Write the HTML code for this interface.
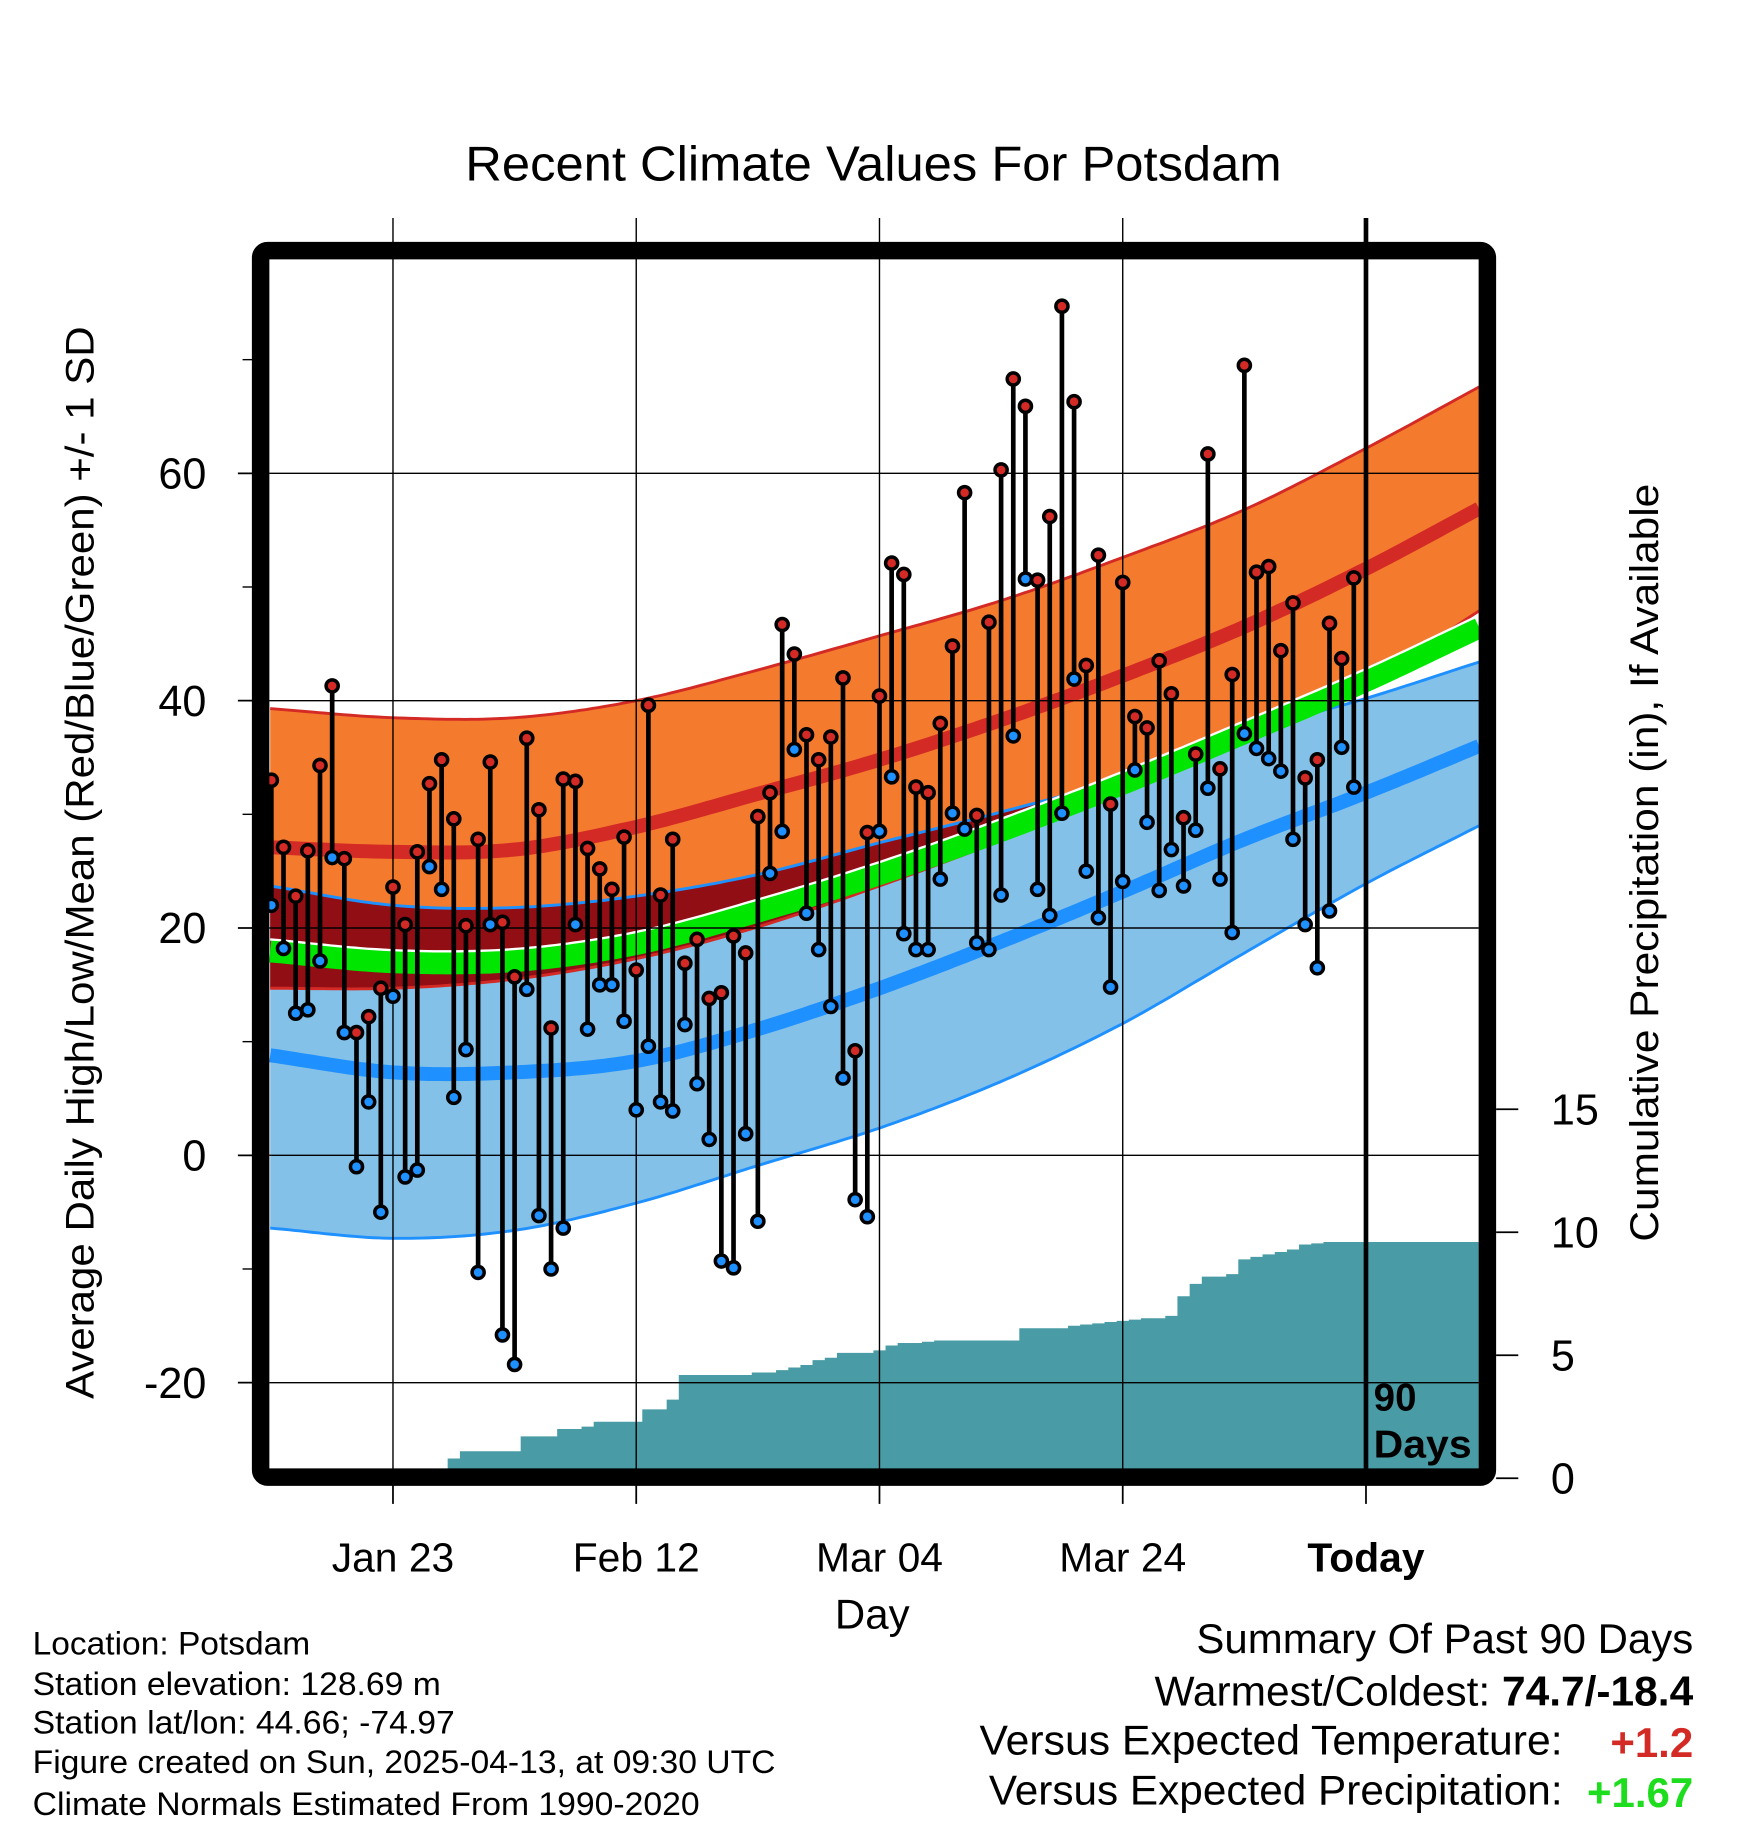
<!DOCTYPE html>
<html><head><meta charset="utf-8"><style>
html,body{margin:0;padding:0;background:#fff;}
svg{display:block;}
text{font-family:"Liberation Sans",Arial,sans-serif;fill:#000;}
</style></head><body>
<svg id="chart" width="1748" height="1828" viewBox="0 0 1499 1568" preserveAspectRatio="none" xmlns="http://www.w3.org/2000/svg">
<g id="bands"></g>
<g id="precip"></g>
<g id="grid"></g>
<g id="marks"></g>
<g id="frame"></g>
<g id="labels">
<text x="749" y="155" font-size="42" text-anchor="middle" textLength="700" lengthAdjust="spacingAndGlyphs">Recent Climate Values For Potsdam</text>
<text transform="translate(80,740) rotate(-90)" font-size="34" text-anchor="middle" textLength="920" lengthAdjust="spacingAndGlyphs">Average Daily High/Low/Mean (Red/Blue/Green) +/- 1 SD</text>
<text transform="translate(1422,740) rotate(-90)" font-size="34" text-anchor="middle" textLength="650" lengthAdjust="spacingAndGlyphs">Cumulative Precipitation (in), If Available</text>
<text x="748" y="1397" font-size="36" text-anchor="middle">Day</text>
<text x="1178" y="1210" font-size="33" font-weight="bold">90</text>
<text x="1178" y="1250" font-size="33" font-weight="bold" textLength="84" lengthAdjust="spacingAndGlyphs">Days</text>
<g font-size="28">
<text x="28" y="1419" textLength="238" lengthAdjust="spacingAndGlyphs">Location: Potsdam</text>
<text x="28" y="1454" textLength="350" lengthAdjust="spacingAndGlyphs">Station elevation: 128.69 m</text>
<text x="28" y="1487" textLength="362" lengthAdjust="spacingAndGlyphs">Station lat/lon: 44.66; -74.97</text>
<text x="28" y="1521" textLength="637" lengthAdjust="spacingAndGlyphs">Figure created on Sun, 2025-04-13, at 09:30 UTC</text>
<text x="28" y="1557" textLength="572" lengthAdjust="spacingAndGlyphs">Climate Normals Estimated From 1990-2020</text>
</g>
<g font-size="36">
<text x="1452" y="1418" text-anchor="end" textLength="426" lengthAdjust="spacingAndGlyphs">Summary Of Past 90 Days</text>
<text x="1452" y="1463" text-anchor="end" textLength="462" lengthAdjust="spacingAndGlyphs">Warmest/Coldest: <tspan font-weight="bold">74.7/-18.4</tspan></text>
<text x="1340" y="1505" text-anchor="end" textLength="500" lengthAdjust="spacingAndGlyphs">Versus Expected Temperature:</text>
<text x="1452" y="1507" text-anchor="end" font-weight="bold" style="fill:#d42a25">+1.2</text>
<text x="1340" y="1548" text-anchor="end" textLength="492" lengthAdjust="spacingAndGlyphs">Versus Expected Precipitation:</text>
<text x="1452" y="1550" text-anchor="end" font-weight="bold" style="fill:#1edc1e">+1.67</text>
</g>
</g>
</svg>
<script>
const highs=[33,27.1,22.8,26.8,34.3,41.3,26.1,10.8,12.2,14.7,23.6,20.3,26.7,32.7,34.8,29.6,20.2,27.8,34.6,20.5,15.7,36.7,30.4,11.2,33.1,32.9,27.0,25.2,23.4,28.0,16.3,39.6,22.9,27.8,16.9,19.0,13.8,14.3,19.3,17.8,29.8,31.9,46.7,44.1,37.0,34.8,36.8,42.0,9.2,28.4,40.4,52.1,51.1,32.4,31.9,38.0,44.8,58.3,29.9,46.9,60.3,68.3,65.9,50.6,56.2,74.7,66.3,43.1,52.8,30.9,50.4,38.6,37.6,43.5,40.6,29.7,35.3,61.7,34.0,42.3,69.5,51.3,51.8,44.4,48.6,33.2,34.8,46.8,43.7,50.8];
const lows=[22,18.2,12.5,12.8,17.1,26.2,10.8,-1.0,4.7,-5.0,14.0,-1.9,-1.3,25.4,23.4,5.1,9.3,-10.3,20.3,-15.8,-18.4,14.6,-5.3,-10.0,-6.4,20.3,11.1,15.0,15.0,11.8,4.0,9.6,4.7,3.9,11.5,6.3,1.4,-9.3,-9.9,1.9,-5.8,24.8,28.5,35.7,21.3,18.1,13.1,6.8,-3.9,-5.4,28.5,33.3,19.5,18.1,18.1,24.3,30.1,28.7,18.7,18.1,22.9,36.9,50.7,23.4,21.1,30.1,41.9,25.0,20.9,14.8,24.1,33.9,29.3,23.3,26.9,23.7,28.6,32.3,24.3,19.6,37.1,35.8,34.9,33.8,27.8,20.3,16.5,21.5,35.9,32.4];
const precip=[0,0,0,0,0,0,0,0,0,0,0,0,0,0,0.3,0.8,1.1,1.1,1.1,1.1,1.1,1.7,1.7,1.7,2.0,2.0,2.1,2.3,2.3,2.3,2.3,2.8,2.8,3.2,4.2,4.2,4.2,4.2,4.2,4.2,4.3,4.3,4.4,4.5,4.6,4.8,4.9,5.1,5.1,5.1,5.2,5.4,5.5,5.5,5.55,5.6,5.6,5.6,5.6,5.6,5.6,5.6,6.1,6.1,6.1,6.1,6.2,6.25,6.3,6.35,6.4,6.45,6.5,6.5,6.6,7.4,7.9,8.2,8.2,8.3,8.9,9.0,9.1,9.2,9.3,9.5,9.55,9.6,9.6,9.6];
const normDays=[-0.1,10,20,30,40,50,60,70,80,90,99.3];
const hiUp=[39.3,38.5,38.5,40,42.7,45.7,48.8,52.6,56.8,62.2,67.6];
const hiMean=[27.1,26.7,26.9,28.9,31.8,34.8,38.3,42.2,46.5,51.6,56.9];
const hiLo=[14.7,14.7,15.5,17.3,20.1,23.7,27.7,32.0,36.5,41.5,47.9];
const loUp=[23.7,22.0,21.8,22.8,24.7,27.5,30.2,33.2,37.2,40.2,43.4];
const loMean=[8.8,7.3,7.3,8.3,11.1,14.7,18.8,23.2,27.8,31.9,36.0];
const loLo=[-6.4,-7.3,-6.6,-4.2,-0.9,2.4,6.5,11.6,17.8,23.9,29.0];
const yTicks=[60,40,20,0,-20];
const yMinor=[70,50,30,10,-10];
const pTicks=[0,5,10,15];
const xTickDays=[10,30,50,70,90];
const xTickLabels=["Jan 23","Feb 12","Mar 04","Mar 24","Today"];

const NS="http://www.w3.org/2000/svg";
const L=231,R=1268,T=222,B=1260;
const xs=d=>337+(d-10)*10.43;
const ys=v=>991-9.75*v;
const yp=p=>1268-21.1*p;
function el(tag,attrs,parent){const e=document.createElementNS(NS,tag);for(const k in attrs)e.setAttribute(k,attrs[k]);parent.appendChild(e);return e;}
function interp(arr,d){const n=normDays.length;
 const tan=i=>{const a=Math.max(0,i-1),b=Math.min(n-1,i+1);return (arr[b]-arr[a])/(normDays[b]-normDays[a]);};
 for(let i=0;i<n-1;i++){if(d<=normDays[i+1]||i===n-2){const h=normDays[i+1]-normDays[i];const t=Math.min(1,Math.max(0,(d-normDays[i])/h));
 const t2=t*t,t3=t2*t;return (2*t3-3*t2+1)*arr[i]+(t3-2*t2+t)*h*tan(i)+(-2*t3+3*t2)*arr[i+1]+(t3-t2)*h*tan(i+1);}}}
const samp=[];for(let d=normDays[0];d<=99.3;d+=0.5)samp.push(d);samp.push(99.3);
function pts(fn){return samp.map(d=>xs(d).toFixed(1)+","+ys(fn(d)).toFixed(1));}
function band(fu,fl,fill,name){const p=pts(fu).concat(pts(fl).reverse());const e=el("polygon",{points:p.join(" "),fill:fill},bands);

}
function line(fn,stroke,w,name){const e=el("polyline",{points:pts(fn).join(" "),fill:"none",stroke:stroke,"stroke-width":w},bands);

}
const bands=document.getElementById("bands");
const H_up=d=>interp(hiUp,d),H_m=d=>interp(hiMean,d),H_lo=d=>interp(hiLo,d);
const L_up=d=>interp(loUp,d),L_m=d=>interp(loMean,d),L_lo=d=>interp(loLo,d);
band(H_up,H_lo,"#f47b2e","high-band");
band(L_up,L_lo,"#84c1e8","low-band");
band(L_up,d=>Math.min(H_lo(d),L_up(d)),"#910e14","overlap-band");
line(H_lo,"#d42a25",2.5,"high-lower-line");
line(H_up,"#d42a25",2.5,"high-upper-line");
line(L_up,"#1e90ff",2.5,"low-upper-line");
line(L_lo,"#1e90ff",2.5,"low-lower-line");
line(H_m,"#d42a25",12,"mean-high-line");
line(L_m,"#1e90ff",12,"mean-low-line");
line(d=>(H_m(d)+L_m(d))/2,"#00e600",19,"mean-line");
line(d=>(H_m(d)+L_m(d))/2+1.05,"#ffffff",2,"mean-edge");

const pg=document.getElementById("precip");
let pp=[L+","+B];
precip.forEach((v,i)=>{const x0=Math.max(L,xs(i-0.5)),x1=xs(i+0.5);pp.push(x0.toFixed(1)+","+yp(v).toFixed(1));pp.push(x1.toFixed(1)+","+yp(v).toFixed(1));});
pp.push(R+","+yp(precip[precip.length-1]).toFixed(1));pp.push(R+","+B);
const pa=el("polygon",{points:pp.join(" "),fill:"#499ca5"},pg);



const g=document.getElementById("grid");
yTicks.forEach(v=>{const ln=el("line",{x1:L,x2:R,y1:ys(v),y2:ys(v),stroke:"#000","stroke-width":1.2},g);


const t=el("text",{x:177,y:ys(v)+13,"font-size":37,"text-anchor":"end"},g);t.textContent=v;


el("line",{x1:204,x2:218,y1:ys(v),y2:ys(v),stroke:"#000","stroke-width":1.5},g);});
yMinor.forEach(v=>{const m=el("line",{x1:208,x2:218,y1:ys(v),y2:ys(v),stroke:"#000","stroke-width":1.2},g);

});
xTickDays.forEach((d,i)=>{const x=xs(d);const last=i===xTickDays.length-1;
const ln=el("line",{x1:x,x2:x,y1:187,y2:B,stroke:"#000","stroke-width":last?4:1.2},g);


el("line",{x1:x,x2:x,y1:1274,y2:1290,stroke:"#000","stroke-width":1.5},g);
const t=el("text",{x:x,y:1348,"font-size":35,"text-anchor":"middle","font-weight":last?"bold":"normal"},g);t.textContent=xTickLabels[i];

});
pTicks.forEach(v=>{const tk=el("line",{x1:1283,x2:1302,y1:yp(v),y2:yp(v),stroke:"#000","stroke-width":1.5},g);


const t=el("text",{x:1330,y:yp(v)+13,"font-size":37},g);t.textContent=v;

});

const mg=document.getElementById("marks");
highs.forEach((h,i)=>{const x=xs(i),lo=lows[i];
const s=el("line",{x1:x,x2:x,y1:ys(h),y2:ys(lo),stroke:"#000","stroke-width":4},mg);


const c1=el("circle",{cx:x,cy:ys(lo),r:5.2,fill:"#1e90ff",stroke:"#000","stroke-width":3},mg);


const c2=el("circle",{cx:x,cy:ys(h),r:5.2,fill:"#d42a25",stroke:"#000","stroke-width":3},mg);

});

const fr=document.getElementById("frame");
const f=el("rect",{x:223.5,y:215,width:1052,height:1052,rx:6,fill:"none",stroke:"#000","stroke-width":15},fr);


</script>
</body></html>
